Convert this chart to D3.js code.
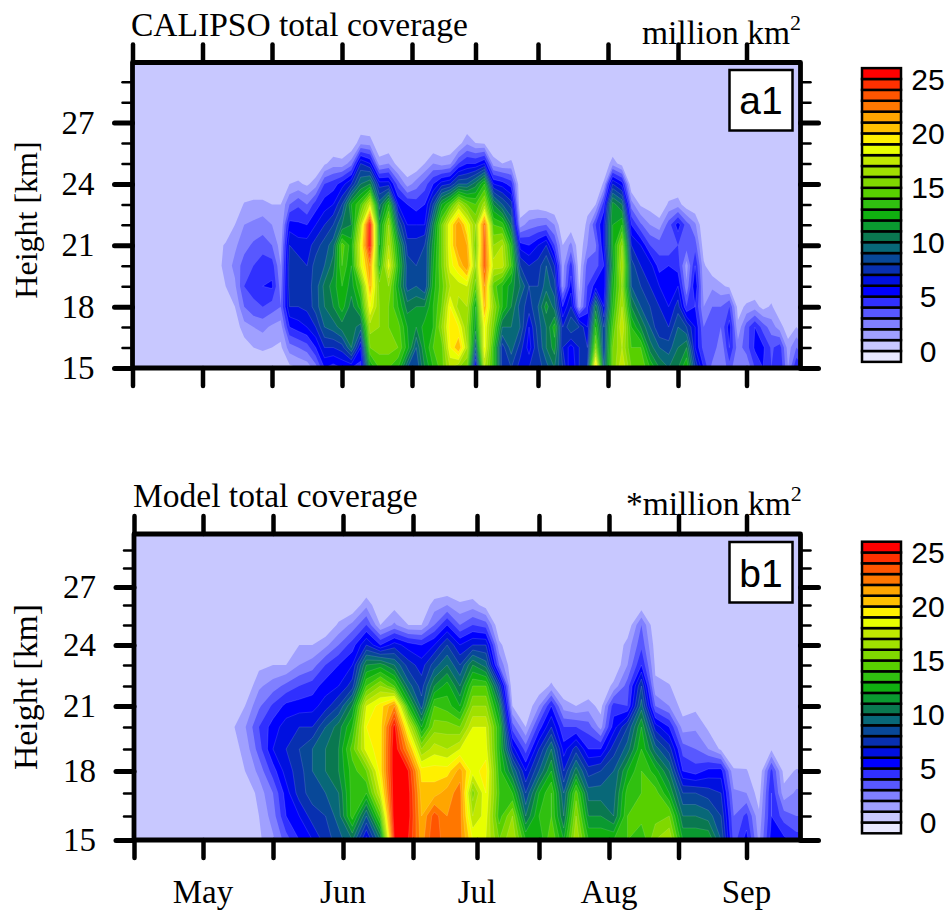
<!DOCTYPE html>
<html>
<head>
<meta charset="utf-8">
<script src="https://cdn.jsdelivr.net/npm/d3@7"></script>
<style>
  html, body { margin: 0; padding: 0; background: #fff; }
  text { fill: #000; }
  .serif { font-family: "Liberation Serif", serif; }
  .sans { font-family: "Liberation Sans", sans-serif; }
</style>
</head>
<body>
<div id="chart"></div>
<script>
// one list per column, from 15 km upward in 1 km steps, missing tops are zero

// CALIPSO, a column every 2 days from day of year 106
var calipsoColumns = [
  [],[],[],[],[],[],[],[],[],
  [0,0,0,0,0,.5,.7,.4],
  [0,0,.2,.5,1,1.4,1.1,.4],
  [0,0,.3,1,1.8,2.3,1.8,1,.2],
  [0,.4,1.6,3,4,3.5,2.6,2,1.1],
  [0,1,2,3.8,4.3,4,3.2,2.2,1.3],
  [0,1.2,2.3,4,5,4.6,3.5,2.5,1.3],
  [0,1,1.8,3.5,5.2,4.5,3,2,1,.2],
  [0,.8,1.5,3,2.5,2,1.5,1,1],
  [.7,2.5,5,7,7.5,7.5,7,5.5,3,1],
  [1,3,5.5,7,7.5,7.5,6.5,5.2,3.8,1.2],
  [1.3,3.5,6,7.3,7.5,7,6.5,5,3,.8],
  [2.5,5,7,8.5,8.5,8.5,7.5,6,4.5,1.5],
  [5,7,9,10,10.3,9,8.5,7,5.5,4,.8],
  [4.5,7,9.5,11,11.5,10.5,9.5,8,6,4.5,1.5],
  [5,7.5,10.5,12.5,13,14,14.5,10,8,5.5,1.3],
  [5,10,10.5,10.5,11.5,12,12.5,11,12,7,2.5],
  [4.5,6,9.5,12.5,14,18,18.5,17,14,10,7,1.7],
  [12,15,16.5,19,21,22,25.5,25.5,18,11,6,1.5],
  [14,15.5,16,16,15.5,13,12,11.5,9.5,6.5,1.5],
  [14,15.5,15,15,16,18.5,17,16,13,6.5,2],
  [13,15,14.5,13,12,13,12,9,6,3.5,.5],
  [9,12.5,12,10.5,8.5,8.5,7.5,6,5,1.5],
  [8,9,11,11,9,8,7.5,6,4.5,2.5],
  [11,12,12.5,11,8,8,8,6,5,3.5,1],
  [13,14,13,13,12.5,12,11.5,10.5,8,5,2],
  [14.5,14.5,16,15,14.5,15,15,15,12,6.5,1.5],
  [17,19,19.5,19,17,18.5,19,19,14,7,1.8],
  [16,21,19,16.5,17.5,20,22,22,17,9,4,.5],
  [15,17,16,17,18,22,21,19,15,9,5,1.8],
  [5.5,9,11.5,12,14.5,16,15,16,14,10.5,5,1],
  [17,19,19,21,22,23.5,23.5,23,16.5,13,6,.8],
  [13.5,13.5,15,16,14.5,17.5,16,14,11,6,1.5],
  [7.5,7.5,10,13,13,17.5,17,13.5,9,5.5,1],
  [8,9.5,10,11,11.5,14,13,10,7.5,4.5,1.2],
  [6.5,7.5,9,8.5,10,8,5.5,1.5],
  [7,5.5,6,7.5,8,7,5,2.5,.4],
  [7.5,8,8.5,9,8,7.5,6,2.8,.4],
  [8.5,10,10,11.5,9.5,9,7,3],
  [10,11.5,12.5,9.5,8.5,7,4,2],
  [8,7,7,5,1.8,1.5,1],
  [5,5.5,9,7,5.5,4.5,2.3,.3],
  [7,7,8,1.5,.8,.3,.2],
  [8,7,6,4.5,4,3.5,2,1.3,.6],
  [21,15.5,13,10.5,5.5,3.5,2.8,4,1],
  [9,8,8,6,5,5,6,6,4.5,1.2],
  [15,15,14,13,12.5,11.5,12,12,11.5,7,1.5],
  [18,17,18,17,16,17,16,13,10,5.5,.5],
  [15,14,13,11,9,8.5,7,5,2.5],
  [15,14,11,9,8,7,6,3.2,.8],
  [13,10.5,9,8,7,6.5,4,2,.5],
  [11,9,7,7,6,4.5,3.5,1.5],
  [10,8.5,7,6,5,5,3,3.5,1.2],
  [11,10,9,7.5,6,4.5,4,5.5,1.5],
  [13,11,8,4,2.2,1.5,3.5,3.5,.3],
  [8,6,6,5,6,5,3.5,2.2],
  [5,3.5,3,2,1.5,1.2,.4],
  [2.5,4,3,3,1.8,.2],
  [2,2,3,3,1.2],
  [3.5,5,5.5,4,.8],
  [2,2.5,1.2,.6],
  [2,3.5,3.5,1.2],
  [4,5.2,5,1.5],
  [5,5.2,3.5,.6],
  [4,3.8,2.5,1.2],
  [5,4.5,1.5],
  [2,1.5,.3],
  [5,3,1],
  [4,2]
];

// model, a column every 3 days from day of year 106
var modelColumns = [
  [],[],[],[],[],[],[],
  [0,0,0,.3,.5,.7,.5],
  [0,0,0,1,1.3,1.9,1],
  [.8,1,1.4,2.3,3.5,4,2.8,1.8,.7],
  [1.8,2.5,3,4.5,6,5.5,4.2,2.5,1],
  [3.5,5,5.5,6.5,7,6.5,5.3,3.3,1],
  [5,6,7.5,7.5,8,7,5.5,4,2,1],
  [6,7.5,8.5,9,9,7,5.6,4.5,2.5,1],
  [7.5,8,9,10,10,9,6.5,5.5,4,1.7],
  [8.5,9.5,10,11,11,10.5,8,6,5,3,1.2],
  [10,13.5,13.5,13.5,14.5,13,11,7.5,6,4.5,2.3],
  [5.5,9,13,15,18.5,19,18,14,11,7,4,1.7],
  [10,14.5,18,19.5,19.5,19.5,19.5,16,11.5,5,1],
  [25,26,26,26,26,25.5,22,14,10,6.5,2.2,.6],
  [25,25.5,25.5,25,21.5,18,13,9.5,7.5,5.5,1],
  [21.5,21,20.5,19.5,16,12,8.5,7.5,6.5,5,1],
  [24,23.5,20.5,19.5,17.5,15.5,14,11,8.5,6,3,1.5],
  [22,22,21.5,19.5,17,15.5,13.5,12.5,10,8,5,2],
  [22.5,22.5,22.5,21.5,18,15,12,10,8,6,3,1.2],
  [19,17,15.5,18.5,19,18,16,14,11,7,4,1.5],
  [18,18.5,19,19.5,18.5,18,16,14,9.5,7,3.5,.5],
  [15,13.5,14,13.5,13,13,11,8,3,1.3],
  [17,16,13,10,6.5,3.5,1],
  [13,10,8,6,3.5,1],
  [12,13,12,9,7,4.5,2,.2],
  [15,14,14,12,10,7,5,1.2],
  [12,10,9,7,5.5,4,1.5],
  [17,16,14.5,10.5,7.5,4,1],
  [13,11,9.5,7.5,5,3.5,1.5],
  [13,11,9.5,8,5,1.6,.6],
  [13,10,9.5,9,7.5,5.5,4.5,1.3],
  [14,14,13.5,12,9.5,8,4,3.5,2,1.4,.2],
  [13,14.5,14,14,13,12,9.5,8,5,3.7,3,.3],
  [16,14.5,14.5,12.5,9.5,6.5,3,1.2,.8,.5],
  [17,15,12,10,7.5,5,2,1.1],
  [12,10,8,5,3.5,1.5,.5],
  [12,10,8,4.5,3,1.8,.7],
  [12,9.5,7.5,5.3,2,.8],
  [9,8,7,5.5,.8],
  [3.5,3,2.2,1.1,.3],
  [5.5,4.3,2,1.1],
  [1.7,1.2,.5],
  [5.5,5,5,4.3,.8],
  [5.3,3.5,1.3,.6],
  [4.5,3,2.2,1.1],
  [4.5,3,2.2,1.1]
];

var calipsoStart = 106, calipsoStep = 2;
var modelStart = 106, modelStep = 3;
var rowCount = 13;

var dayTicks = [105, 121, 136, 152, 167, 182, 196, 213, 228, 244];
var monthDays = [121, 152, 182, 213, 244];
var monthNames = ["May", "Jun", "Jul", "Aug", "Sep"];
var heightMajor = [15, 18, 21, 24, 27];
var heightMinor = [16, 17, 19, 20, 22, 23, 25, 26, 28, 29];
var levels = d3.range(1, 26);
var legendLabels = [0, 5, 10, 15, 20, 25];

// colour of each box, bottom of the bar first (below 0 up to above 25)
var boxColors = ["#e8e8ff", "#c8c8ff", "#a0a0ff", "#8080ff", "#5858ff", "#3030ff",
  "#0000ff", "#0010e0", "#0830b0", "#084898", "#086878", "#0a7850", "#0a9a30",
  "#10b010", "#30c010", "#58d000", "#80d800", "#a0e000", "#c0e800", "#e8ff00",
  "#fff000", "#ffc000", "#ffa500", "#ff7700", "#ff5500", "#ff3000", "#ff0000"];

var svg = d3.select("#chart").append("svg")
  .attr("width", 948)
  .attr("height", 910)
  .style("display", "block");

var xDomain = dayTicks.concat([257]);

var panels = [
  {
    id: "a",
    columns: calipsoColumns, start: calipsoStart, step: calipsoStep,
    left: 132.5, right: 800.5, top: 62.5, bottom: 368,
    xRange: [132.5, 202.5, 272, 342, 412, 475.5, 538, 608, 678, 746.5, 800.5],
    yRange: d3.range(16).map(function(i) { return 368 - i * 20.45; }),
    title: "CALIPSO total coverage", titleX: 131, titleY: 36,
    unit: "million km", unitX: 642, unitY: 44,
    tag: "a1", tagY: 70, tagBase: 113.5,
    axisTitleSize: 32, axisTitleY: 220,
    barTop: 79, barBottom: 351
  },
  {
    id: "b",
    columns: modelColumns, start: modelStart, step: modelStep,
    left: 134, right: 800.5, top: 534, bottom: 840,
    xRange: [134, 203, 273, 343, 413, 477, 539, 609, 678.5, 746.5, 800.5],
    yRange: [840, 816, 793, 771, 749, 727, 706, 686, 665, 645, 625, 605, 587, 568, 550, 534],
    title: "Model total coverage", titleX: 133, titleY: 507,
    unit: "*million km", unitX: 626, unitY: 515,
    tag: "b1", tagY: 542, tagBase: 586.5,
    axisTitleSize: 33.8, axisTitleY: 687,
    barTop: 552.5, barBottom: 822.5
  }
];

panels.forEach(function(p) {
  var x = d3.scaleLinear().domain(xDomain).range(p.xRange);
  var y = d3.scaleLinear().domain(d3.range(15, 31)).range(p.yRange);
  var g = svg.append("g").attr("class", "panel-" + p.id);

  var clipId = "clip-" + p.id;
  svg.append("clipPath").attr("id", clipId).append("rect")
    .attr("x", p.left).attr("y", p.top)
    .attr("width", p.right - p.left).attr("height", p.bottom - p.top);

  g.append("rect")
    .attr("x", p.left).attr("y", p.top)
    .attr("width", p.right - p.left).attr("height", p.bottom - p.top)
    .attr("fill", boxColors[1]);

  // flat grid for d3.contours, row 0 is 15 km
  var cols = p.columns.length;
  var values = [];
  for (var r = 0; r < rowCount; r++) {
    for (var c = 0; c < cols; c++) {
      var v = p.columns[c][r];
      values.push(v === undefined ? 0 : v);
    }
  }

  var contours = d3.contours().size([cols, rowCount]).thresholds(levels)(values);

  // grid units back to day and height
  var project = d3.geoTransform({
    point: function(u, w) {
      this.stream.point(x(p.start + (u - 0.5) * p.step), y(15 + (w - 0.5)));
    }
  });
  var path = d3.geoPath(project);

  g.append("g")
    .attr("clip-path", "url(#" + clipId + ")")
    .selectAll("path")
    .data(contours)
    .enter().append("path")
    .attr("d", path)
    .attr("fill", function(d) { return boxColors[d.value + 1]; })
    .attr("stroke", function(d) { return d.value >= 5 ? "#fff" : "none"; })
    .attr("stroke-opacity", 0.22)
    .attr("stroke-width", 0.6);

  // ticks on all four sides
  function styleAxis(sel, width) {
    sel.select(".domain").remove();
    sel.selectAll("line")
      .attr("stroke", "#000")
      .attr("stroke-width", width)
      .attr("stroke-linecap", "round");
    sel.selectAll("text").remove();
  }

  g.append("g").attr("transform", "translate(0," + p.bottom + ")")
    .call(d3.axisBottom(x).tickValues(dayTicks).tickSize(18).tickFormat(""))
    .call(styleAxis, 4.5);
  g.append("g").attr("transform", "translate(0," + p.top + ")")
    .call(d3.axisTop(x).tickValues(dayTicks).tickSize(18).tickFormat(""))
    .call(styleAxis, 4.5);
  g.append("g").attr("transform", "translate(" + p.left + ",0)")
    .call(d3.axisLeft(y).tickValues(heightMajor).tickSize(18).tickFormat(""))
    .call(styleAxis, 5);
  g.append("g").attr("transform", "translate(" + p.right + ",0)")
    .call(d3.axisRight(y).tickValues(heightMajor).tickSize(18).tickFormat(""))
    .call(styleAxis, 5);
  g.append("g").attr("transform", "translate(" + p.left + ",0)")
    .call(d3.axisLeft(y).tickValues(heightMinor).tickSize(10).tickFormat(""))
    .call(styleAxis, 2.5);
  g.append("g").attr("transform", "translate(" + p.right + ",0)")
    .call(d3.axisRight(y).tickValues(heightMinor).tickSize(10).tickFormat(""))
    .call(styleAxis, 2.5);

  g.append("rect")
    .attr("x", p.left).attr("y", p.top)
    .attr("width", p.right - p.left).attr("height", p.bottom - p.top)
    .attr("fill", "none")
    .attr("stroke", "#000")
    .attr("stroke-width", 4.8)
    .attr("stroke-linejoin", "round");

  // height labels
  g.selectAll(".ylab")
    .data(heightMajor)
    .enter().append("text")
    .attr("class", "ylab serif")
    .attr("x", p.left - 38)
    .attr("y", function(d) { return y(d) + 11; })
    .attr("text-anchor", "end")
    .attr("font-size", 33)
    .text(function(d) { return d; });

  g.append("text")
    .attr("class", "serif")
    .attr("transform", "translate(37," + p.axisTitleY + ") rotate(-90)")
    .attr("text-anchor", "middle")
    .attr("font-size", p.axisTitleSize)
    .text("Height [km]");

  g.append("text")
    .attr("class", "serif")
    .attr("x", p.titleX).attr("y", p.titleY)
    .attr("font-size", 33.5)
    .text(p.title);

  var unit = g.append("text")
    .attr("class", "serif")
    .attr("x", p.unitX).attr("y", p.unitY)
    .attr("font-size", 33.5)
    .text(p.unit);
  unit.append("tspan")
    .attr("font-size", 22)
    .attr("dy", -14)
    .text("2");

  // a1 / b1 tag
  g.append("rect")
    .attr("x", 729.5).attr("y", p.tagY)
    .attr("width", 63).attr("height", 60.5)
    .attr("fill", "#fff")
    .attr("stroke", "#000")
    .attr("stroke-width", 2.5);
  g.append("text")
    .attr("class", "sans")
    .attr("x", 761).attr("y", p.tagBase)
    .attr("text-anchor", "middle")
    .attr("font-size", 39)
    .text(p.tag);

  // colour bar
  var bar = d3.scaleLinear().domain([0, 25]).range([p.barBottom, p.barTop]);
  g.selectAll(".box")
    .data(boxColors)
    .enter().append("rect")
    .attr("class", "box")
    .attr("x", 862)
    .attr("width", 39)
    .attr("y", function(d, i) { return bar(i); })
    .attr("height", function(d, i) { return bar(i - 1) - bar(i); })
    .attr("fill", function(d) { return d; })
    .attr("stroke", "#000")
    .attr("stroke-width", 2.5);
  g.selectAll(".barlab")
    .data(legendLabels)
    .enter().append("text")
    .attr("class", "barlab sans")
    .attr("x", 928)
    .attr("y", function(d) { return bar(d) + 10.5; })
    .attr("text-anchor", "middle")
    .attr("font-size", 30)
    .text(function(d) { return d; });

  if (p.id === "b") {
    g.selectAll(".month")
      .data(monthNames)
      .enter().append("text")
      .attr("class", "month serif")
      .attr("x", function(d, i) { return x(monthDays[i]); })
      .attr("y", 903)
      .attr("text-anchor", "middle")
      .attr("font-size", 33)
      .text(function(d) { return d; });
  }
});
</script>
</body>
</html>
